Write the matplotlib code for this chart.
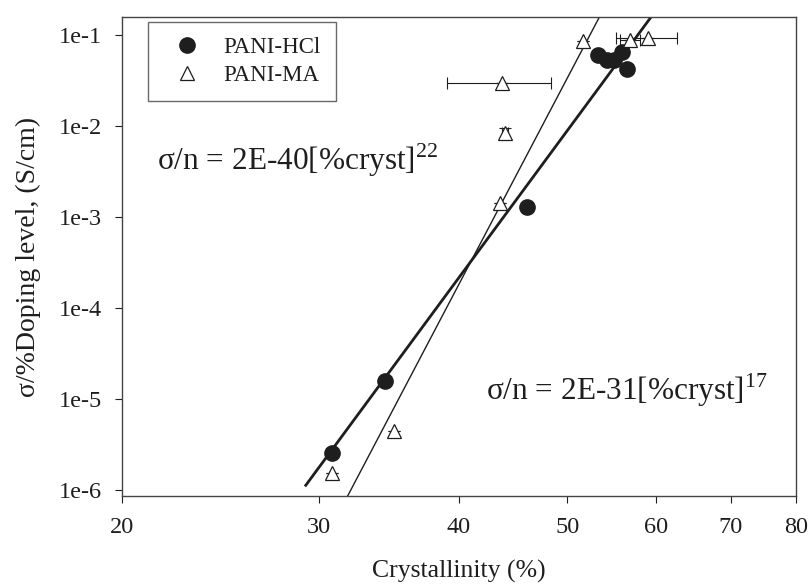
import numpy as np
import matplotlib
matplotlib.use("Agg")
import matplotlib.pyplot as plt
from matplotlib.ticker import FixedLocator, FixedFormatter, NullLocator

plt.rcParams['font.family'] = ['Liberation Serif', 'DejaVu Serif']
plt.rcParams['mathtext.fontset'] = 'custom'
plt.rcParams['mathtext.rm'] = 'Liberation Serif'

INK = '#1e1e1e'

# PANI-HCl: crystallinity (%) vs conductivity per doping level (S/cm)
hcl_cryst = [30.8, 34.4, 46.0, 53.3, 54.3, 55.1, 56.0, 56.5]
hcl_sigma = [2.55e-6, 1.58e-5, 1.29e-3, 0.060, 0.053, 0.053, 0.065, 0.042]

# PANI-MA
ma_cryst = [30.8, 35.0, 43.5, 44.0, 43.7, 51.6, 56.9, 59.0]
ma_sigma = [1.54e-6, 4.45e-6, 1.43e-3, 8.4e-3, 0.0297, 0.086, 0.088, 0.093]
ma_cryst_err = [0.0, 0.0, 0.0, 0.3, 4.65, 0.0, 1.2, 3.7]
ma_sigma_err_frac = [0.0, 0.0, 0.0, 0.12, 0.0, 0.0, 0.0, 0.0]

# Power-law fits  sigma/n = A * cryst^k  (log10 A, k)
hcl_fit = (-30.39, 16.68)
ma_fit = (-41.23, 23.4)

x_ticks = [20, 30, 40, 50, 60, 70, 80]
y_ticks = [1e-6, 1e-5, 1e-4, 1e-3, 1e-2, 1e-1]
y_tick_labels = ['1e-6', '1e-5', '1e-4', '1e-3', '1e-2', '1e-1']

fig = plt.figure(figsize=(8.12, 5.85), dpi=100)
ax = fig.add_axes([0.150, 0.152, 0.830, 0.819])
ax.set_xscale('log')
ax.set_yscale('log')
ax.set_xlim(20, 80)
ax.set_ylim(10 ** -6.066, 10 ** -0.802)

# fit lines
xf = np.linspace(29.2, 70, 300)
ax.plot(xf, 10 ** (hcl_fit[0] + hcl_fit[1] * np.log10(xf)), color=INK, lw=2.0, zorder=2)
xf2 = np.linspace(30.5, 70, 300)
ax.plot(xf2, 10 ** (ma_fit[0] + ma_fit[1] * np.log10(xf2)), color=INK, lw=1.0, zorder=2)

# error bars on PANI-MA
ma_c = np.array(ma_cryst)
ma_s = np.array(ma_sigma)
xerr = np.array(ma_cryst_err)
yerr = ma_s * np.array(ma_sigma_err_frac)
ax.errorbar(ma_c, ma_s, xerr=xerr, yerr=yerr, fmt='none', ecolor=INK,
            elinewidth=0.8, capsize=4, capthick=0.8, zorder=3)

ax.plot(hcl_cryst, hcl_sigma, 'o', ms=11, mfc=INK, mec=INK, ls='none',
        label='PANI-HCl', zorder=4)
ax.plot(ma_cryst, ma_sigma, '^', ms=10, mfc='white', mec=INK, mew=0.9,
        ls='none', label='PANI-MA', zorder=4)

ax.xaxis.set_major_locator(FixedLocator(x_ticks))
ax.xaxis.set_major_formatter(FixedFormatter([str(v) for v in x_ticks]))
ax.xaxis.set_minor_locator(NullLocator())
ax.yaxis.set_major_locator(FixedLocator(y_ticks))
ax.yaxis.set_major_formatter(FixedFormatter(y_tick_labels))
ax.yaxis.set_minor_locator(NullLocator())

ax.tick_params(axis='both', which='major', direction='out', length=5, width=0.8,
               colors=INK, labelsize=17.5, pad=9)
ax.tick_params(axis='x', pad=10)
for s in ax.spines.values():
    s.set_color('#444444')
    s.set_linewidth(1.0)

ax.set_xlabel('Crystallinity (%)', fontsize=18.5, color=INK, labelpad=16)
ax.set_ylabel('σ/%Doping level, (S/cm)', fontsize=20, color=INK, labelpad=13)

ax.text(0.052, 0.70, r'σ/n = 2E-40[%cryst]$^{22}$', transform=ax.transAxes,
        fontsize=22.5, color=INK, va='center', ha='left')
ax.text(0.541, 0.222, r'σ/n = 2E-31[%cryst]$^{17}$', transform=ax.transAxes,
        fontsize=22.5, color=INK, va='center', ha='left')

leg = ax.legend(loc='upper left', bbox_to_anchor=(0.0386, 0.9896),
                borderaxespad=0, fancybox=False, edgecolor='#444444',
                fontsize=16.5, handlelength=2.1, handletextpad=0.55,
                borderpad=0.65, labelspacing=0.3)
leg.get_frame().set_linewidth(1.0)
for t in leg.get_texts():
    t.set_color(INK)

fig.savefig('out.png', dpi=100, facecolor='white')
